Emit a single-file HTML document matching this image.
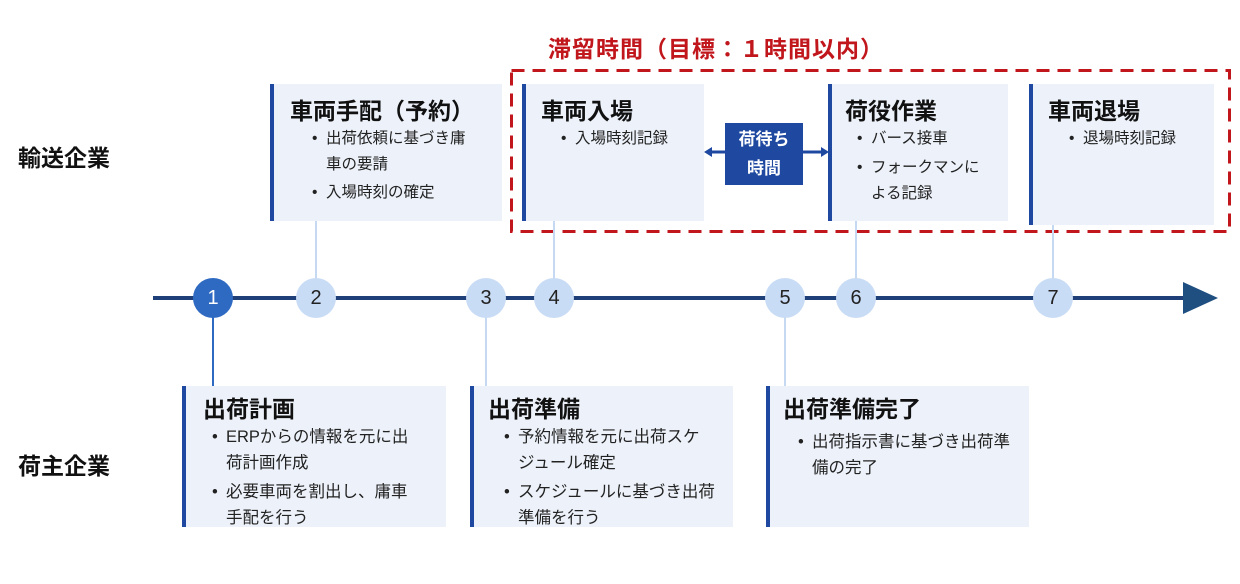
<!DOCTYPE html>
<html><head><meta charset="utf-8"><style>
body{margin:0;width:1240px;height:584px;background:#fff;position:relative;overflow:hidden;font-family:"Liberation Sans","Noto Sans CJK JP",sans-serif;color:#222}
.a{position:absolute}
.box{position:absolute;background:#edf2fa;border-left:4px solid #1f48a0;box-sizing:border-box}
.t{position:absolute;font-weight:bold;font-size:23px;color:#111;white-space:nowrap;line-height:26px}
.b{position:absolute;font-size:15.5px;line-height:26px;color:#222;white-space:nowrap}
.bb{font-size:16.5px}
.b span{position:absolute;left:-14px}
.c{position:absolute;width:40px;height:40px;border-radius:50%;background:#c9dcf5;color:#222;font-size:20px;text-align:center;line-height:40px;top:278px}
.v{position:absolute;width:2px;background:#c5d9f2}
.lab{position:absolute;font-weight:bold;font-size:23px;color:#111;left:18px}
</style></head><body>
<div class="a" style="left:548px;top:30px;font-size:23px;font-weight:bold;color:#c0161c;white-space:nowrap;letter-spacing:1px">滞留時間（目標：１時間以内）</div>
<svg class="a" style="left:508px;top:67px" width="725" height="168"><rect x="3.5" y="3.5" width="718" height="161" fill="none" stroke="#c0161c" stroke-width="3" stroke-dasharray="13 8"/></svg>

<div class="lab" style="top:139px">輸送企業</div>
<div class="lab" style="top:447px">荷主企業</div>

<div class="v" style="left:315px;top:221px;height:60px"></div>
<div class="v" style="left:553px;top:221px;height:60px"></div>
<div class="v" style="left:855px;top:221px;height:60px"></div>
<div class="v" style="left:1052px;top:225px;height:56px"></div>
<div class="v" style="left:212px;top:316px;height:70px;background:#2f6ac2"></div>
<div class="v" style="left:485px;top:316px;height:70px"></div>
<div class="v" style="left:784px;top:316px;height:70px"></div>

<div class="a" style="left:153px;top:296px;width:1035px;height:4px;background:#1f3f78"></div>
<svg class="a" style="left:1183px;top:282px" width="36" height="34"><polygon points="0,0 35,16 0,32" fill="#1f4f80"/></svg>
<div class="c" style="left:193px;background:#2f6ac2;color:#fff">1</div>
<div class="c" style="left:296px">2</div>
<div class="c" style="left:466px">3</div>
<div class="c" style="left:534px">4</div>
<div class="c" style="left:765px">5</div>
<div class="c" style="left:836px">6</div>
<div class="c" style="left:1033px">7</div>

<div class="box" style="left:270px;top:84px;width:232px;height:137px"></div>
<div class="t" style="left:290px;top:98px">車両手配（予約）</div>
<div class="b" style="left:326px;top:126px"><span>•</span>出荷依頼に基づき庸<br>車の要請</div>
<div class="b" style="left:326px;top:180px"><span>•</span>入場時刻の確定</div>

<div class="box" style="left:522px;top:84px;width:182px;height:137px"></div>
<div class="t" style="left:541px;top:98px">車両入場</div>
<div class="b" style="left:575px;top:126px"><span>•</span>入場時刻記録</div>

<div class="a" style="left:725px;top:123px;width:78px;height:62px;background:#1f48a0;color:#fff;font-weight:bold;font-size:17px;line-height:29px;text-align:center;padding-top:2px;box-sizing:border-box">荷待ち<br>時間</div>
<svg class="a" style="left:702px;top:144px" width="130" height="16">
<line x1="6" y1="8" x2="24" y2="8" stroke="#1f48a0" stroke-width="3"/>
<polygon points="2,8 10,3 10,13" fill="#1f48a0"/>
<line x1="100" y1="8" x2="120" y2="8" stroke="#1f48a0" stroke-width="3"/>
<polygon points="127,8 119,3 119,13" fill="#1f48a0"/>
</svg>

<div class="box" style="left:828px;top:84px;width:180px;height:137px"></div>
<div class="t" style="left:845px;top:98px">荷役作業</div>
<div class="b" style="left:871px;top:126px"><span>•</span>バース接車</div>
<div class="b" style="left:871px;top:155px"><span>•</span>フォークマンに<br>よる記録</div>

<div class="box" style="left:1029px;top:84px;width:185px;height:141px"></div>
<div class="t" style="left:1048px;top:98px">車両退場</div>
<div class="b" style="left:1083px;top:126px"><span>•</span>退場時刻記録</div>

<div class="box" style="left:182px;top:386px;width:264px;height:141px"></div>
<div class="t" style="left:203px;top:396px">出荷計画</div>
<div class="b bb" style="left:226px;top:424px"><span>•</span>ERPからの情報を元に出<br>荷計画作成</div>
<div class="b bb" style="left:226px;top:479px"><span>•</span>必要車両を割出し、庸車<br>手配を行う</div>

<div class="box" style="left:470px;top:386px;width:263px;height:141px"></div>
<div class="t" style="left:488px;top:396px">出荷準備</div>
<div class="b bb" style="left:518px;top:424px"><span>•</span>予約情報を元に出荷スケ<br>ジュール確定</div>
<div class="b bb" style="left:518px;top:479px"><span>•</span>スケジュールに基づき出荷<br>準備を行う</div>

<div class="box" style="left:766px;top:386px;width:263px;height:141px"></div>
<div class="t" style="left:783px;top:396px">出荷準備完了</div>
<div class="b bb" style="left:812px;top:429px"><span>•</span>出荷指示書に基づき出荷準<br>備の完了</div>
</body></html>
